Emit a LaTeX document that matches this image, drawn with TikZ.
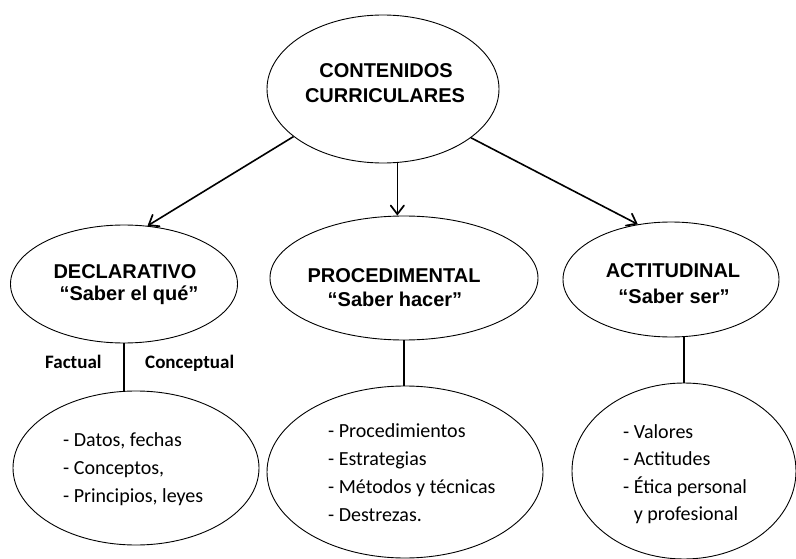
\documentclass[tikz,border=0pt]{standalone}
\usepackage{fontspec}
\setmainfont{Carlito}
\newfontfamily\arialfont{Liberation Sans}
\usetikzlibrary{shapes.geometric,arrows.meta}
\tikzset{
  oval/.style={ellipse, draw, line width=0.9pt, inner sep=0pt},
  head/.style={font=\arialfont\bfseries\fontsize{20}{24}\selectfont, inner sep=0pt, anchor=base},
  item/.style={font=\fontsize{20}{28}\selectfont, inner sep=0pt, anchor=base west},
  sublabel/.style={font=\bfseries\fontsize{19}{22}\selectfont, inner sep=0pt, anchor=base west},
  arr/.style={-{Straight Barb[angle=75:11pt,line width=1.7pt,line cap=round]}, line width=1.6pt},
  link/.style={line width=1.3pt}
}
\begin{document}
\begin{tikzpicture}[x=1pt,y=-1pt]
\useasboundingbox (0,0) rectangle (796,559);
% ellipses
\node[oval, minimum width=232pt, minimum height=148pt] (top) at (383,89) {};
\node[oval, minimum width=227pt, minimum height=118pt] (decl) at (124,284) {};
\node[oval, minimum width=268pt, minimum height=124pt] (proc) at (404,278) {};
\node[oval, minimum width=216pt, minimum height=115pt] (act) at (671,279.5) {};
\node[oval, minimum width=246pt, minimum height=154pt] (low1) at (136,468) {};
\node[oval, minimum width=276pt, minimum height=172pt] (low2) at (405,472) {};
\node[oval, minimum width=224pt, minimum height=176pt] (low3) at (684,471) {};
% headings
\node[head] (t1) at (386,78) {CONTENIDOS};
\node[head] (t2) at (385,103) {CURRICULARES};
\node[head] (d1) at (125,278) {DECLARATIVO};
\node[head] (d2) at (129,300) {“Saber el qué”};
\node[head] (p1) at (394,282) {PROCEDIMENTAL};
\node[head] (p2) at (395,306) {“Saber hacer”};
\node[head] (a1) at (673,277) {ACTITUDINAL};
\node[head] (a2) at (674,303) {“Saber ser”};
% sub labels
\node[sublabel] (fac) at (45,368) {Factual};
\node[sublabel] (con) at (145,368) {Conceptual};
% items
\node[item] (i11) at (63,446) {- Datos, fechas};
\node[item] (i12) at (63,474) {- Conceptos,};
\node[item] (i13) at (63,502) {- Principios, leyes};
\node[item] (i21) at (328,437) {- Procedimientos};
\node[item] (i22) at (328,465) {- Estrategias};
\node[item] (i23) at (328,493) {- Métodos y técnicas};
\node[item] (i24) at (328,521) {- Destrezas.};
\node[item] (i31) at (623,438) {- Valores};
\node[item] (i32) at (623,465) {- Actitudes};
\node[item] (i33) at (623,493) {- Ética personal};
\node[item] (i34) at (623,520) {\hphantom{- }y profesional};
% arrows
\draw[arr] (top.208) -- (decl.68);
\draw[arr] (top.281) -- (top.281 |- proc.north);
\draw[arr] (top.331) -- (act.121);
% links
\draw[link] (decl.south) -- (decl.south |- low1.north);
\draw[link] (proc.south) -- (proc.south |- low2.north);
\draw[link] (act.south -| low3.north) -- (low3.north);
\end{tikzpicture}
\end{document}
